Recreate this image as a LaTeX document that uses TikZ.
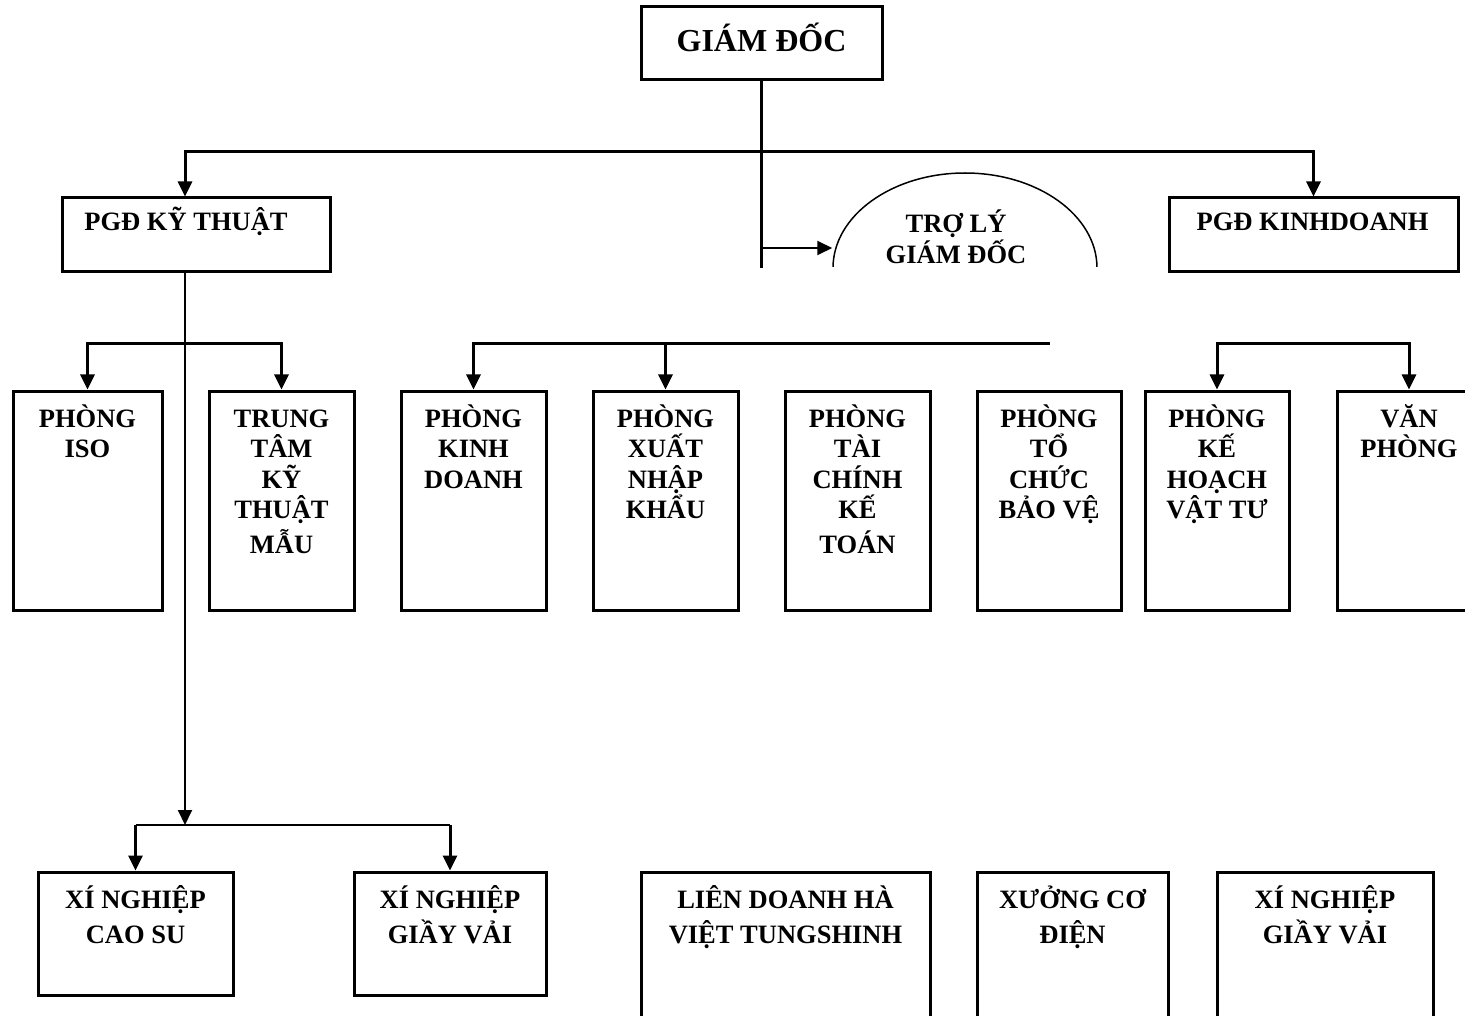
\documentclass[tikz,border=0pt]{standalone}
\usepackage{fontspec}
\setmainfont{Liberation Serif}
\usetikzlibrary{arrows.meta,shapes.geometric}
\newcommand\mlines[1]{\vtop{\lineskiplimit=-100pt\halign{\hfil##\hfil\cr#1\crcr}}}
\begin{document}
\begin{tikzpicture}[x=1pt,y=-1pt,
  box/.style={draw,line width=3pt,inner sep=0pt},
  lbl/.style={inner sep=0pt,anchor=base,font=\fontsize{26.5}{30.5}\selectfont\bfseries},
  lblb/.style={inner sep=0pt,anchor=base,font=\fontsize{26.5}{35.5}\selectfont\bfseries},
  tipA/.tip={Triangle[length=15pt,width=14pt]},
  conn/.style={line width=3pt,line cap=rect},
  thin/.style={line width=2pt},
  arr/.style={line width=3pt,-tipA},
  arrstart/.style={line width=3pt,tipA-,line join=miter},
  arrboth/.style={line width=3pt,tipA-tipA,line join=miter},
  arrthin/.style={line width=2pt,-tipA}]
\useasboundingbox (0,0) rectangle (1465,1016);
\clip (0,0) rectangle (1465,1016);
\fill[white] (0,0) rectangle (1465,1016);

% coordinates for connector levels
\coordinate (h1) at (185,152);
\coordinate (m1) at (0,344);
\coordinate (bh) at (0,825);
\coordinate (e1) at (0,268);
\coordinate (j1) at (761.5,248);
\coordinate (kdend) at (1050,344);

% top
\node[box,minimum width=241pt,minimum height=73pt] (gd) at (761.5,43.5) {};
\node[lbl,font=\fontsize{32}{36}\selectfont\bfseries] (gdT) at (761.5,52) {GIÁM ĐỐC};

\node[box,minimum width=268pt,minimum height=74pt] (pkt) at (196,235) {};
\node[lbl] (pktT) at (186,231) {PGĐ KỸ THUẬT};
\node[box,minimum width=289pt,minimum height=74pt] (pkd) at (1313.5,235) {};
\node[lbl] (pkdT) at (1312.5,231) {PGĐ KINHDOANH};

\begin{scope}
  \clip (0,0) rectangle (1465,267);
  \node[draw,ellipse,line width=1.5pt,minimum width=264pt,minimum height=190pt,inner sep=0pt] (tl) at (965,268) {};
  \node[lbl] (tlT) at (956,233) {\mlines{TRỢ LÝ\cr GIÁM ĐỐC}};
\end{scope}

\draw[line width=2.5pt] (gd.south) -- (gd.south |- e1);
\draw[arrboth] (h1 |- pkt.north) -- (h1) -- (h1 -| pkd.north) -- (pkd.north);
\draw[arrthin] (j1) -- (j1 -| tl.west);

% middle row
\foreach \n/\cx/\w in {iso/87.5/149,tt/281.5/145,pkdn/473.5/145,xnk/665.5/145,tc/857.5/145,tcbv/1049/144,khvt/1217/144,vp/1409/144}{
  \node[box,minimum width=\w pt,minimum height=219pt] (\n) at (\cx,500.5) {};
}
\node[lbl] (isoT) at (iso.center |- 0,427) {\mlines{PHÒNG\cr ISO}};
\node[lbl] (ttT) at (tt.center |- 0,427) {\mlines{TRUNG\cr TÂM\cr KỸ\cr THUẬT\cr\noalign{\vskip4.5pt}MẪU}};
\node[lbl] (pkdnT) at (pkdn.center |- 0,427) {\mlines{PHÒNG\cr KINH\cr DOANH}};
\node[lbl] (xnkT) at (xnk.center |- 0,427) {\mlines{PHÒNG\cr XUẤT\cr NHẬP\cr KHẨU}};
\node[lbl] (tcT) at (tc.center |- 0,427) {\mlines{PHÒNG\cr TÀI\cr CHÍNH\cr KẾ\cr\noalign{\vskip4.5pt}TOÁN}};
\node[lbl] (tcbvT) at (tcbv.center |- 0,427) {\mlines{PHÒNG\cr TỔ\cr CHỨC\cr BẢO VỆ}};
\node[lbl] (khvtT) at (khvt.center |- 0,427) {\mlines{PHÒNG\cr KẾ\cr HOẠCH\cr VẬT TƯ}};
\node[lbl] (vpT) at (vp.center |- 0,427) {\mlines{VĂN\cr PHÒNG}};

\draw[arrboth] (iso.north) -- (iso.north |- m1) -- (tt.north |- m1) -- (tt.north);
\draw[arrstart] (pkdn.north) -- (pkdn.north |- m1) -- (kdend);
\draw[arr] (xnk.north |- m1) -- (xnk.north);
\draw[arrboth] (khvt.north) -- (khvt.north |- m1) -- (vp.north |- m1) -- (vp.north);

% bottom row
\node[box,minimum width=195pt,minimum height=123pt] (xn1) at (135.5,933.5) {};
\node[box,minimum width=192pt,minimum height=123pt] (xn2) at (450,933.5) {};
\node[box,minimum width=289pt,minimum height=168pt] (ld) at (785.5,956) {};
\node[box,minimum width=191pt,minimum height=168pt] (xd) at (1072.5,956) {};
\node[box,minimum width=216pt,minimum height=168pt] (xg) at (1325,956) {};
\node[lblb] (xn1T) at (xn1.center |- 0,908) {\mlines{XÍ NGHIỆP\cr CAO SU}};
\node[lblb] (xn2T) at (xn2.center |- 0,908) {\mlines{XÍ NGHIỆP\cr GIẦY VẢI}};
\node[lblb] (ldT) at (ld.center |- 0,908) {\mlines{LIÊN DOANH HÀ\cr VIỆT TUNGSHINH}};
\node[lblb] (xdT) at (xd.center |- 0,908) {\mlines{XƯỞNG CƠ\cr ĐIỆN}};
\node[lblb] (xgT) at (xg.center |- 0,908) {\mlines{XÍ NGHIỆP\cr GIẦY VẢI}};

\draw[arrthin] (h1 |- pkt.south) -- (h1 |- bh);
\draw[thin] (xn1.north |- bh) -- (xn2.north |- bh);
\draw[arr] (xn1.north |- bh) -- (xn1.north);
\draw[arr] (xn2.north |- bh) -- (xn2.north);
\end{tikzpicture}
\end{document}
